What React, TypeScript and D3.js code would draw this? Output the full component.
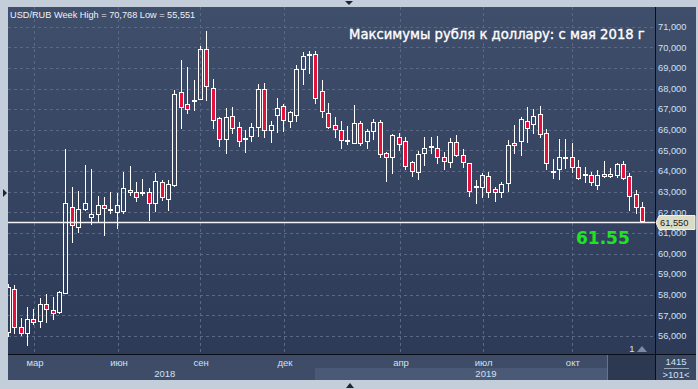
import React from "react";
import * as d3 from "d3";

// ---- data (weekly USD/RUB candles) ----
const opens = [56.2,58.26,56.42,56.13,56.81,56.75,57.54,57.25,57.18,58.07,62.27,61.3,62.16,61.79,61.9,62.34,62.15,62.03,62.08,63.06,62.99,62.92,62.97,62.47,63.45,62.64,63.32,67.82,67.23,67.42,67.51,69.9,68.01,66.56,65.54,66.65,66.15,65.57,65.71,66.12,67.96,65.99,66.7,67.14,66.41,66.7,68.93,69.64,69.66,67.88,66.83,66.22,65.99,65.45,65.38,66.31,65.46,65.94,66.38,64.86,64.68,65.67,65.47,64.42,63.97,64.86,65.19,65.1,64.66,64.45,65.42,64.78,64.37,63.25,63.24,63.76,63.11,63.0,63.4,65.34,65.46,66.43,66.28,66.75,65.83,63.95,64.08,64.64,64.66,64.21,63.84,63.79,63.32,63.86,63.76,63.81,64.34,63.76,62.89,62.24];
const highs = [58.5,58.46,56.86,57.39,57.29,57.84,58.04,57.88,58.18,65.05,63.21,63.03,64.29,64.1,62.79,62.76,62.98,62.95,63.95,64.24,63.45,63.6,63.16,63.92,63.56,63.56,67.93,69.38,69.03,68.41,70.06,70.77,68.45,66.64,67.04,67.09,66.36,65.99,66.31,68.22,68.28,66.43,67.52,67.25,66.93,69.14,69.76,69.82,69.82,68.41,67.28,66.6,66.43,66.18,67.2,66.43,66.05,66.52,66.47,64.94,65.8,65.83,65.63,64.5,64.97,65.67,65.67,65.7,64.91,65.62,65.75,65.05,64.4,63.56,63.89,63.97,63.24,63.48,65.5,66.23,66.64,67.09,67.01,67.15,66.02,64.57,65.55,65.54,65.34,64.53,64.21,63.97,64.05,64.5,64.13,64.4,64.5,63.89,63.08,62.51];
const lows = [56.0,56.16,56.05,55.55,56.58,56.45,56.7,56.81,57.13,58.07,60.57,61.03,62.11,61.42,61.51,60.9,61.95,61.25,61.95,62.84,62.56,62.85,61.63,62.06,62.6,62.11,63.29,66.07,66.83,66.96,67.51,67.44,66.07,65.21,64.86,65.86,65.23,64.94,65.47,65.7,65.67,65.42,65.91,65.96,66.12,66.44,68.2,68.74,67.31,66.6,66.07,65.63,65.13,65.31,65.38,65.25,65.13,65.57,64.7,63.53,63.92,65.02,64.11,63.76,63.61,64.29,64.89,64.37,64.11,64.21,64.75,64.21,62.79,62.47,62.76,62.76,62.56,62.76,63.05,64.86,64.78,65.42,65.83,65.63,64.11,63.65,63.6,64.13,63.97,63.61,63.48,63.32,63.13,63.69,63.69,63.69,63.6,62.11,61.98,61.55];
const closes = [58.36,56.42,56.13,56.81,56.67,57.54,57.29,57.13,58.12,62.43,61.37,62.14,62.43,61.9,62.34,62.19,62.18,62.34,63.16,62.97,62.76,62.96,62.43,63.5,62.72,63.35,67.74,67.12,67.02,67.46,69.9,68.14,66.47,65.54,66.6,66.07,65.44,65.61,66.15,67.96,65.99,66.22,67.07,66.47,66.85,68.93,69.58,69.68,67.52,66.91,66.15,66.02,65.49,65.49,66.31,65.38,65.94,66.38,64.81,64.68,65.73,65.31,64.26,64.02,64.81,65.12,65.23,64.66,64.47,65.42,64.78,64.42,63.05,63.29,63.81,62.97,63.0,63.37,65.26,65.25,66.51,66.07,66.68,65.8,64.37,63.99,64.66,64.68,64.21,63.65,63.88,63.48,63.79,63.76,63.86,64.34,63.65,62.81,62.27,61.6];

const yTicks = [56,57,58,59,60,61,62,63,64,65,66,67,68,69,70,71];
const monthTickIdx = [4.1, 17.2, 30.0, 43.1, 61.2, 74.1, 88.0];
const monthLabels = ["мар", "июн", "сен", "дек", "апр", "июл", "окт"];
const yearLabels = ["2018", "2019"];
const yearLabelIdx = [24.5, 74.6];
const lastPrice = 61.55;
const headerText = "USD/RUB Week High = 70,768 Low = 55,551";
const titleText = "Максимумы рубля к доллару: с мая 2018 г";

const PL = 8, PR = 655, PT = 7, PB = 354;

export default function App() {
  const x = d3.scaleLinear().domain([0, 99]).range([7.8, 642.3]);
  const y = d3.scaleLinear().domain([56, 71]).range([336, 26.7]);
  const fmt = (v: number) => d3.format(".3f")(v).replace(".", ",");
  const sans = "'Liberation Sans', Arial, sans-serif";
  const dv = "'DejaVu Sans', Verdana, sans-serif";
  const labelCol = "#cfe0f5";
  const red = "#e3123d";
  const lastY = Math.round(y(lastPrice)) + 0.5;

  return (
    <svg width={698} height={389} style={{ position: "absolute", left: 0, top: 0, display: "block" }}>
      <defs>
        <linearGradient id="bg" x1="0" y1="0" x2="0" y2="1">
          <stop offset="0" stopColor="#3f4e6b" />
          <stop offset="1" stopColor="#2b3956" />
        </linearGradient>
        <clipPath id="plot">
          <rect x={PL} y={PT} width={PR - PL} height={PB - PT} />
        </clipPath>
      </defs>
      <rect x={0} y={0} width={698} height={389} fill="#c4cdda" />
      {/* main panel */}
      <rect x={PL} y={PT} width={696 - PL} height={380 - PT} fill="url(#bg)" />
      {/* bottom axis band */}
      <rect x={PL} y={PB} width={PR - PL} height={380 - PB} fill="#3e4c67" />
      <rect x={315} y={368} width={607 - 315} height={12} fill="#4a5975" />
      <rect x={607} y={PB} width={PR - 607} height={380 - PB} fill="#2c3951" />
      <line x1={607.5} x2={607.5} y1={PB} y2={380} stroke="#66748c" />
      <rect x={PR} y={PB} width={696 - PR} height={380 - PB} fill="#3a4862" />
      {/* grid */}
      <g stroke="#5a6884" strokeDasharray="3,3" strokeWidth={1}>
        {yTicks.map((t) => (
          <line key={"h" + t} x1={PL} x2={PR} y1={Math.round(y(t)) + 0.5} y2={Math.round(y(t)) + 0.5} />
        ))}
        {monthTickIdx.map((t, i) => (
          <line key={"v" + i} x1={Math.round(x(t)) + 0.5} x2={Math.round(x(t)) + 0.5} y1={PT} y2={PB} />
        ))}
      </g>
      {/* candles */}
      <g clipPath="url(#plot)">
        {opens.map((o, i) => {
          const c = closes[i];
          const cx = Math.round(x(i)) + 0.5;
          const up = c >= o;
          const yt = Math.round(y(Math.max(o, c))) + 0.5;
          let yb = Math.round(y(Math.min(o, c))) + 0.5;
          if (yb < yt + 1) yb = yt + 1;
          const yh = Math.round(y(highs[i]));
          const yl = Math.round(y(lows[i])) + 1;
          return (
            <g key={i}>
              <line x1={cx} x2={cx} y1={yh} y2={yt} stroke="#ffffff" />
              <line x1={cx} x2={cx} y1={yb} y2={yl} stroke="#ffffff" />
              <rect x={cx - 2} y={yt} width={4} height={yb - yt} fill={up ? "none" : red} stroke="#ffffff" strokeWidth={1} />
            </g>
          );
        })}
      </g>
      {/* last price line */}
      <line x1={PL} x2={PR} y1={lastY} y2={lastY} stroke="#f2f2f2" strokeWidth={1.3} />
      {/* axes lines */}
      <line x1={PL} x2={696} y1={PB + 0.5} y2={PB + 0.5} stroke="#0a0e16" />
      <line x1={PR + 0.5} x2={PR + 0.5} y1={PT} y2={380} stroke="#0a0e16" />
      {/* y labels */}
      <g fontFamily={sans} fontSize={9.3} fill={labelCol}>
        {yTicks.map((t) => (
          <text key={"yl" + t} x={658} y={y(t)} dy="0.35em">{fmt(t)}</text>
        ))}
      </g>
      {/* price tag */}
      <path d={`M${PR + 1},${lastY} L${659},${lastY - 7} L${695},${lastY - 7} L${695},${lastY + 7} L${659},${lastY + 7} Z`} fill="#dcdcc6" stroke="#f0f0e4" strokeWidth={1} />
      <text x={660} y={lastY} dy="0.35em" fontFamily={sans} fontSize={9.3} fill="#1a1a1a">{fmt(lastPrice)}</text>
      {/* month & year labels */}
      <g fontFamily={sans} fontSize={9.5} fill={labelCol} textAnchor="middle">
        {monthTickIdx.map((t, i) => (
          <text key={"m" + i} x={x(t) + 1} y={363} dy="0.35em">{monthLabels[i]}</text>
        ))}
        {yearLabels.map((l, i) => (
          <text key={"yr" + i} x={x(yearLabelIdx[i])} y={374} dy="0.35em">{l}</text>
        ))}
        <text x={676} y={362} dy="0.35em">1415</text>
        <text x={676} y={375} dy="0.35em">{">101<"}</text>
      </g>
      <line x1={664} x2={689} y1={368.5} y2={368.5} stroke="#9aa8be" />
      {/* header & title */}
      <text x={10} y={15} dy="0.35em" fontFamily={sans} fontSize={9.2} fill="#eef2f8">{headerText}</text>
      <text x={349} y={34} dy="0.35em" fontFamily={dv} fontSize={13.2} fill="#ffffff" stroke="#ffffff" strokeWidth={0.35}>{titleText}</text>
      {/* big last value */}
      <text x={576} y={238} dy="0.36em" fontFamily={dv} fontSize={17} fontWeight="bold" fill="#1ee61e">61.55</text>
      {/* small marker */}
      <text x={632} y={349} dy="0.35em" fontFamily={sans} fontSize={9.5} fill={labelCol} textAnchor="middle">1</text>
      <path d="M637,352 L642,346 L647,352 Z" fill="#7d8aa2" />
      {/* edge arrows */}
      <path d="M3,189 L7,193 L3,197 Z" fill="#1e2636" />
      <path d="M345,1 L349,5 L353,1 Z" fill="#1e2636" />
      <path d="M346,388 L350,383 L354,388 Z" fill="#1e2636" />
    </svg>
  );
}
